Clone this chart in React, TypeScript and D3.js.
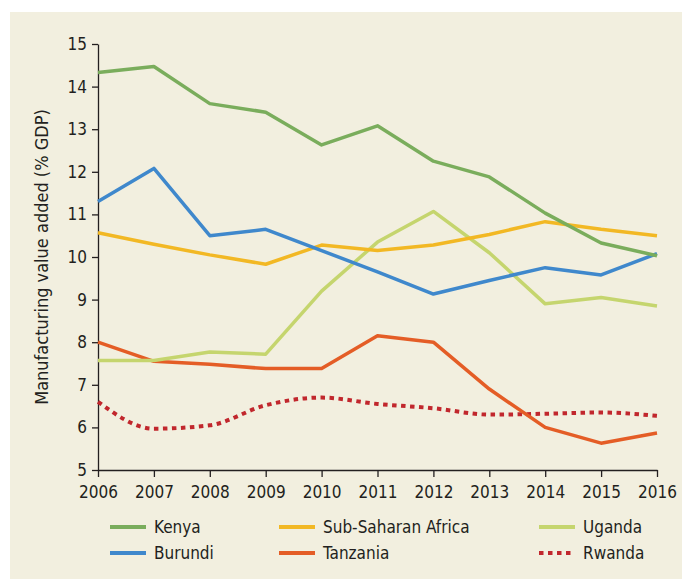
import React, { useEffect, useRef } from 'react';
import * as d3 from 'd3';

const years = [2006, 2007, 2008, 2009, 2010, 2011, 2012, 2013, 2014, 2015, 2016];
const kenya = [14.33, 14.47, 13.6, 13.4, 12.63, 13.08, 12.25, 11.88, 11.03, 10.33, 10.03];
const burundi = [11.3, 12.08, 10.5, 10.65, 10.15, 9.65, 9.13, 9.45, 9.75, 9.58, 10.08];
const ssa = [10.57, 10.3, 10.05, 9.83, 10.28, 10.15, 10.28, 10.53, 10.83, 10.65, 10.5];
const uganda = [7.57, 7.57, 7.77, 7.72, 9.2, 10.35, 11.07, 10.1, 8.9, 9.05, 8.85];
const tanzania = [8.0, 7.55, 7.48, 7.38, 7.38, 8.15, 8.0, 6.9, 6.0, 5.63, 5.87];
const rwanda = [6.6, 5.97, 6.05, 6.52, 6.7, 6.55, 6.45, 6.3, 6.32, 6.35, 6.27];
const yTicks = [5, 6, 7, 8, 9, 10, 11, 12, 13, 14, 15];

const series = [
  { name: 'Kenya', values: kenya, color: '#7aad5c', dotted: false },
  { name: 'Sub-Saharan Africa', values: ssa, color: '#f2b824', dotted: false },
  { name: 'Uganda', values: uganda, color: '#c5d56e', dotted: false },
  { name: 'Burundi', values: burundi, color: '#3f88cc', dotted: false },
  { name: 'Tanzania', values: tanzania, color: '#e45d26', dotted: false },
  { name: 'Rwanda', values: rwanda, color: '#c1272d', dotted: true },
];

const FONT = '"Liberation Sans Narrow", "DejaVu Sans Condensed", "Open Sans", sans-serif';

export default function App() {
  const ref = useRef<SVGSVGElement>(null);

  useEffect(() => {
    if (!ref.current) return;
    const svg = d3.select(ref.current);
    svg.selectAll('*').remove();

    const width = 682;
    const height = 581;
    const margin = { top: 44, right: 25, bottom: 111, left: 98 };

    svg.append('rect')
      .attr('x', 10).attr('y', 12)
      .attr('width', width - 10).attr('height', height - 14)
      .attr('fill', '#f2efdf');

    const x = d3.scaleLinear()
      .domain([2006, 2016])
      .range([margin.left, width - margin.right]);
    const y = d3.scaleLinear()
      .domain([5, 15])
      .range([height - margin.bottom, margin.top]);

    const xAxis = svg.append('g')
      .attr('transform', `translate(0,${height - margin.bottom})`)
      .call(d3.axisBottom(x).tickValues(years).tickFormat(d3.format('d')).tickSize(7).tickSizeOuter(0));
    xAxis.selectAll('text').attr('font-size', 17).attr('dy', '1.05em');

    const yAxis = svg.append('g')
      .attr('transform', `translate(${margin.left},0)`)
      .call(d3.axisLeft(y).tickValues(yTicks).tickSize(6).tickSizeOuter(0));
    yAxis.selectAll('text').attr('font-size', 17).attr('x', -11);

    [xAxis, yAxis].forEach(g => {
      g.attr('font-family', FONT);
      g.selectAll('path, line').attr('stroke', '#231f20').attr('stroke-width', 1.3);
      g.selectAll('text').attr('fill', '#231f20');
    });

    svg.append('text')
      .attr('transform', `translate(42,${(margin.top + height - margin.bottom) / 2}) rotate(-90)`)
      .attr('text-anchor', 'middle')
      .attr('dy', '0.35em')
      .attr('font-family', FONT)
      .attr('font-size', 18)
      .attr('fill', '#231f20')
      .text('Manufacturing value added (% GDP)');

    const drawOrder = ['Rwanda', 'Tanzania', 'Uganda', 'Sub-Saharan Africa', 'Burundi', 'Kenya'];
    drawOrder.forEach(n => {
      const s = series.find(d => d.name === n)!;
      const line = d3.line<number>()
        .x((_, i) => x(years[i]))
        .y(v => y(v))
        .curve(s.dotted ? d3.curveMonotoneX : d3.curveLinear);
      svg.append('path')
        .datum(s.values)
        .attr('d', line)
        .attr('fill', 'none')
        .attr('stroke', s.color)
        .attr('stroke-width', s.dotted ? 4 : 3.5)
        .attr('stroke-dasharray', s.dotted ? '4.5 4.5' : null)
        .attr('stroke-linejoin', 'round');
    });

    const colX = [110, 279, 539];
    const rowY = [527, 553];
    const legend = svg.append('g').attr('font-family', FONT).attr('font-size', 17).attr('fill', '#231f20');
    series.forEach((s, i) => {
      const cx = colX[i % 3];
      const cy = rowY[Math.floor(i / 3)];
      legend.append('line')
        .attr('x1', cx).attr('x2', cx + 36)
        .attr('y1', cy).attr('y2', cy)
        .attr('stroke', s.color)
        .attr('stroke-width', 4)
        .attr('stroke-dasharray', s.dotted ? '4.5 4.5' : null);
      legend.append('text')
        .attr('x', cx + 44).attr('y', cy)
        .attr('dy', '0.35em')
        .text(s.name);
    });
  }, []);

  return <svg ref={ref} width={682} height={581} style={{ position: 'absolute', left: 0, top: 0 }} />;
}
